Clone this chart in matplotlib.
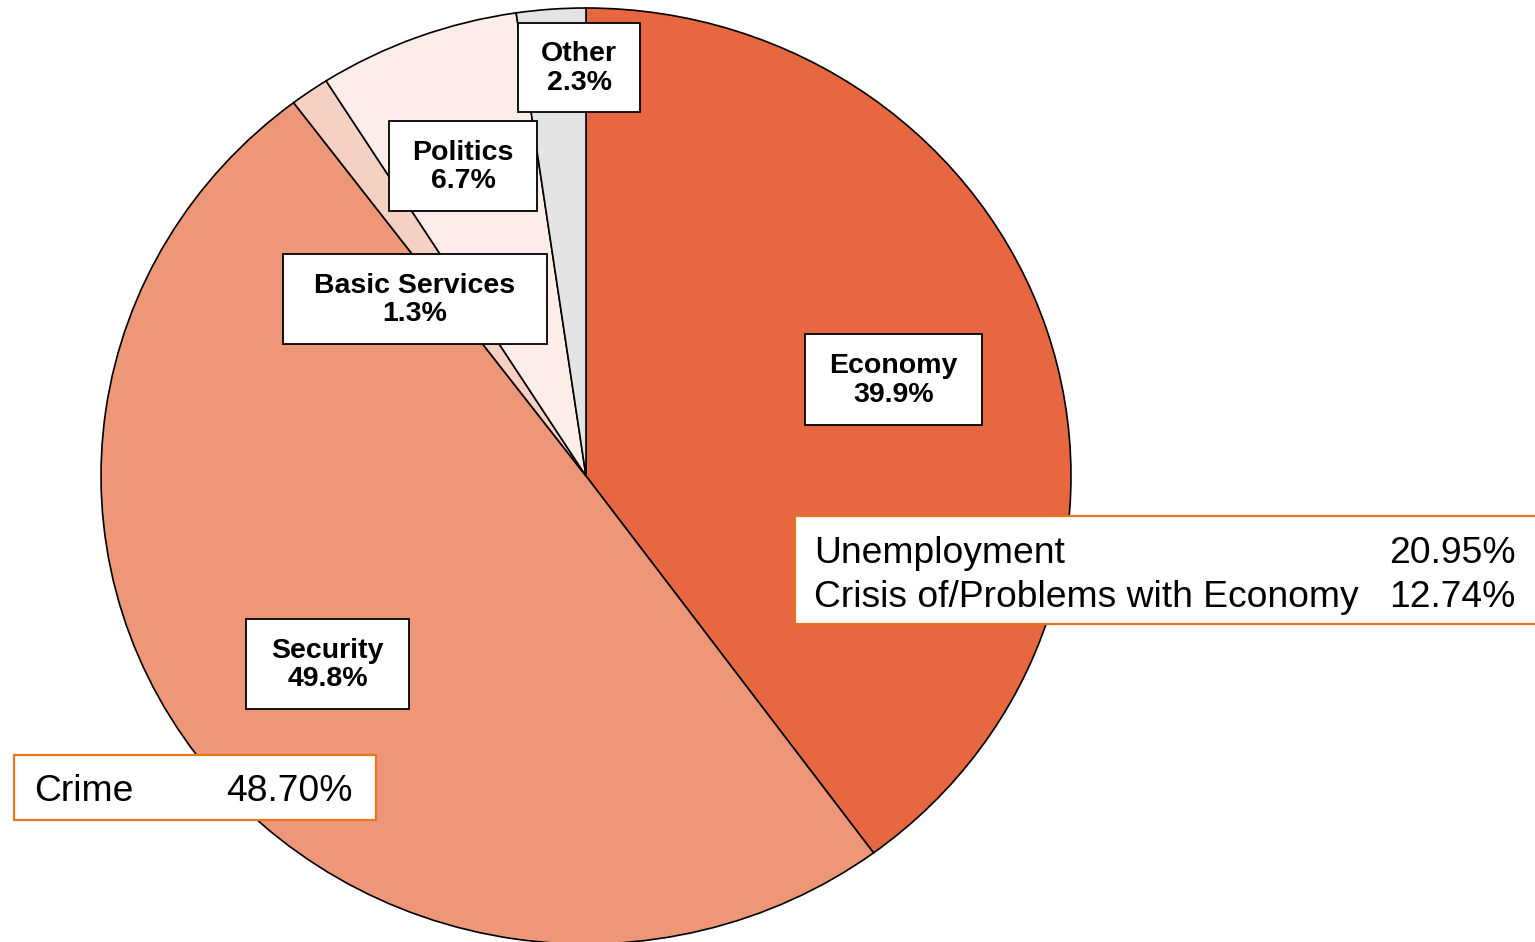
import matplotlib.pyplot as plt
from matplotlib.patches import Rectangle

# main categories, clockwise from the top
categories = ['Economy', 'Security', 'Basic Services', 'Politics', 'Other']
shares = [39.9, 49.8, 1.3, 6.7, 2.3]
colors = ['#E66740', '#EE9678', '#F7D0C4', '#FDEDE9', '#E4E4E4']

# sub-items shown in the side boxes
econ_items = ['Unemployment', 'Crisis of/Problems with Economy']
econ_values = ['20.95%', '12.74%']
sec_items = ['Crime']
sec_values = ['48.70%']

W, H = 1535, 942
fig = plt.figure(figsize=(W / 100, H / 100), dpi=100)
plt.rcParams['font.family'] = ['Liberation Sans', 'DejaVu Sans']

# pie in its own axes, slightly stretched like the original
ax = fig.add_axes([0, 0, 1, 1])
cx, cy, rx, ry = 586, 476, 485, 468
ax.pie(shares, colors=colors, startangle=90, counterclock=False,
       wedgeprops=dict(edgecolor='black', linewidth=1.2))
ax.set_aspect('auto')
ax.set_xlim(-cx / rx, (W - cx) / rx)
ax.set_ylim(-(H - cy) / ry, cy / ry)
ax.axis('off')

# overlay in pixel coords for labels
ov = fig.add_axes([0, 0, 1, 1])
ov.set_xlim(0, W)
ov.set_ylim(H, 0)
ov.axis('off')

# label boxes (left, top, right, bottom) in pixels
label_boxes = [(805, 334, 982, 425), (246, 619, 409, 709), (283, 254, 547, 344),
               (389, 121, 537, 211), (518, 23, 640, 112)]
for name, val, (x0, y0, x1, y1) in zip(categories, shares, label_boxes):
    ov.add_patch(Rectangle((x0, y0), x1 - x0, y1 - y0, fc='white', ec='black', lw=1.3))
    ov.text((x0 + x1) / 2, (y0 + y1) / 2 + 1, f'{name}\n{val:.1f}%', ha='center', va='center',
            fontsize=20.5, fontweight='bold', linespacing=1.12)

orange = '#E8761E'

# economy breakdown box
ov.add_patch(Rectangle((795, 516), 760, 108, fc='white', ec=orange, lw=1.6))
for i, (name, val) in enumerate(zip(econ_items, econ_values)):
    yb = 563 + 44 * i
    ov.text(814, yb, name, ha='left', va='baseline', fontsize=26.8)
    ov.text(1516, yb, val, ha='right', va='baseline', fontsize=26.8)

# security breakdown box
ov.add_patch(Rectangle((14, 755), 362, 65, fc='white', ec=orange, lw=1.6))
for name, val in zip(sec_items, sec_values):
    ov.text(34, 801, name, ha='left', va='baseline', fontsize=26.8)
    ov.text(353, 801, val, ha='right', va='baseline', fontsize=26.8)

fig.savefig('out.png', dpi=100)
